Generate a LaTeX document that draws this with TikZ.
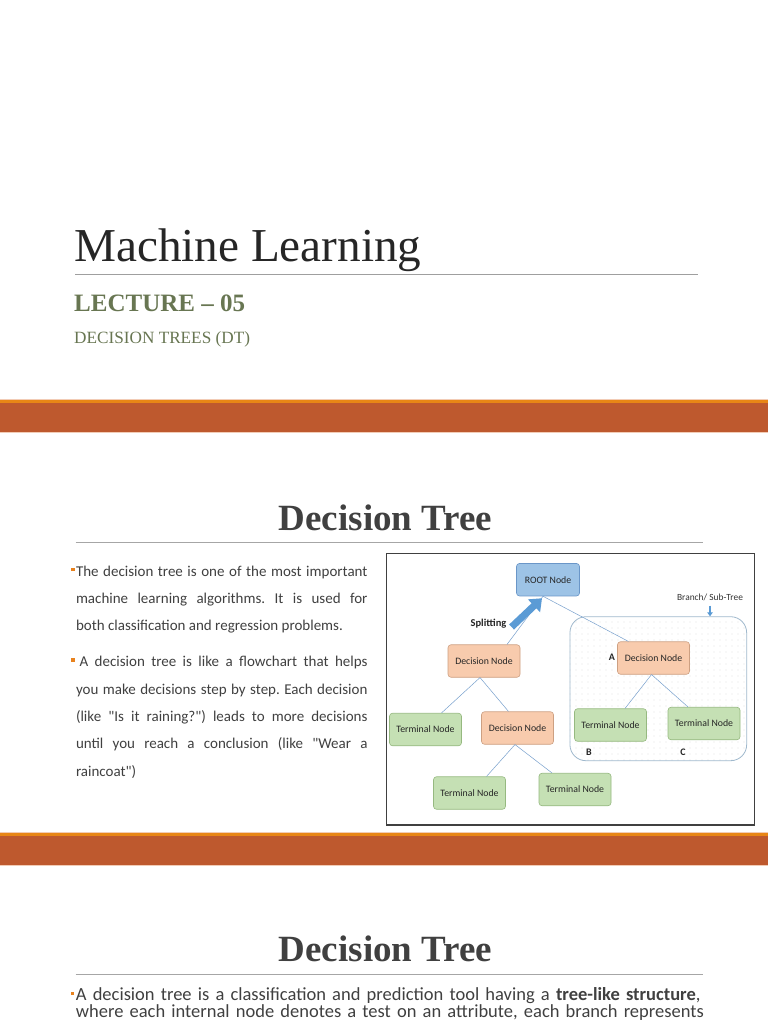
\documentclass[tikz,border=0pt]{standalone}
\usepackage{fontspec}
\setmainfont{Liberation Serif}
\newfontfamily\bodyfont{Carlito}
\usepackage{xcolor}
\usetikzlibrary{positioning,arrows.meta,calc,patterns.meta}
\definecolor{bandmain}{RGB}{190,89,46}
\definecolor{bandtop}{RGB}{232,134,22}
\definecolor{bandedge}{RGB}{242,204,182}
\definecolor{olive}{RGB}{104,118,82}
\definecolor{ink}{RGB}{64,64,64}
\definecolor{bulorange}{RGB}{232,130,30}
\definecolor{rootfill}{RGB}{157,195,230}
\definecolor{rootline}{RGB}{106,150,200}
\definecolor{decfill}{RGB}{248,203,173}
\definecolor{decline}{RGB}{205,160,130}
\definecolor{termfill}{RGB}{197,224,180}
\definecolor{termline}{RGB}{150,185,128}
\definecolor{edgeblue}{RGB}{120,160,205}
\definecolor{arrowblue}{RGB}{91,155,213}
\definecolor{subline}{RGB}{160,185,205}
\newcommand{\sqbullet}[1]{\textcolor{bulorange}{\rule[#1]{3.4pt}{3.4pt}}}

\begin{document}
\begin{tikzpicture}[x=1pt, y=-1pt, font=\bodyfont,
  treebox/.style={draw, rounded corners=3pt, line width=0.6pt, minimum width=72pt,
    minimum height=32.5pt, inner sep=0pt, text=black!85,
    font=\bodyfont\fontsize{9.8}{11}\selectfont},
  rootbox/.style={treebox, fill=rootfill, draw=rootline, minimum width=63pt},
  decbox/.style={treebox, fill=decfill, draw=decline},
  termbox/.style={treebox, fill=termfill, draw=termline},
  link/.style={edgeblue, line width=0.5pt},
  tag/.style={inner sep=0pt, text=black!85, font=\bodyfont\bfseries\fontsize{10}{12}\selectfont}]
  \useasboundingbox (0,0) rectangle (768,1024);
  \clip (0,0) rectangle (768,1024);
  \fill[white] (0,0) rectangle (768,1024);

  % title slide
  \node[anchor=base west, inner sep=0pt, text=black!85, font=\fontsize{47.2}{50}\selectfont] (title) at (74,261.7) {Machine Learning};
  \draw[gray!75, line width=1pt] (75,274) -- (698,274);
  \node[anchor=base west, inner sep=0pt, text=olive, font=\bfseries\fontsize{25}{28}\selectfont] (lecture) at (74,311.7) {LECTURE – 05};
  \node[anchor=base west, inner sep=0pt, text=olive, font=\fontsize{17.2}{20}\selectfont] (subtitle) at (74,343.3) {DECISION TREES (DT)};

  % orange separator bands
  \foreach \by in {0,433}{
    \fill[bandedge] (0,398.8+\by) rectangle (768,432.8+\by);
    \fill[bandtop] (0,399.7+\by) rectangle (768,403.3+\by);
    \fill[bandmain] (0,403.3+\by) rectangle (768,431.7+\by);
  }

  % slide headings
  \foreach \hy/\hn in {530/1,961.7/2}{
    \node[anchor=base, inner sep=0pt, text=ink, font=\bfseries\fontsize{37}{40}\selectfont] (head\hn) at (385.5,\hy) {Decision Tree};
    \draw[gray!70, line width=0.9pt] (75.6,\hy+12.8) -- (703,\hy+12.8);
  }

  % left text
  \node[anchor=base west, inner sep=0pt, text width=291.5pt, align=justify, text=ink,
    font=\bodyfont\fontsize{15}{27.3}\selectfont\frenchspacing] (intro) at (75.8,576.3)
    {\llap{\sqbullet{5.3pt}\kern1.5pt}The decision tree is one of the most important\linebreak
     machine learning algorithms. It is used for\linebreak
     both classification and regression problems.\par\vspace{8.7pt}
     \leavevmode\llap{\sqbullet{5.3pt}\kern1.5pt}\kern3.6pt A decision tree is like a flowchart that helps\linebreak
     you make decisions step by step. Each decision\linebreak
     (like "Is it raining?") leads to more decisions\linebreak
     until you reach a conclusion (like "Wear a\linebreak
     raincoat")};

  % figure frame
  \draw[black!75, line width=1.3pt] (386.5,553.5) rectangle (754.5,825);

  % branch / sub-tree region
  \node[draw=subline, line width=0.8pt, rounded corners=16pt,
    pattern={Dots[distance=6pt,radius=0.35pt]}, pattern color=black!30,
    minimum width=176.7pt, minimum height=144pt] (subtree) at (658.3,688.7) {};

  % tree nodes
  \node[rootbox] (root) at (548,579.7) {ROOT Node};
  \node[decbox] (decL) at (484,661) {Decision Node};
  \node[decbox] (decA) at (653.5,658) {Decision Node};
  \node[termbox] (termL) at (425.5,729.5) {Terminal Node};
  \node[decbox] (decM) at (517.5,728) {Decision Node};
  \node[termbox] (termB) at (610.5,725) {Terminal Node};
  \node[termbox] (termC) at (704,723.5) {Terminal Node};
  \node[termbox] (termBL) at (469.5,793) {Terminal Node};
  \node[termbox] (termBR) at (575,789.5) {Terminal Node};

  % branches
  \draw[link] ([xshift=-5pt]root.south) -- ([xshift=23pt]decL.north);
  \draw[link] ([xshift=-5pt]root.south) -- ([xshift=-25pt]decA.north);
  \draw[link] ([xshift=-4pt]decL.south) -- ([xshift=16pt]termL.north);
  \draw[link] ([xshift=-4pt]decL.south) -- ([xshift=-9pt]decM.north);
  \draw[link] ([xshift=-2.5pt]decM.south) -- ([xshift=17pt]termBL.north);
  \draw[link] ([xshift=-2.5pt]decM.south) -- ([xshift=-23pt]termBR.north);
  \draw[link] ([xshift=-2pt]decA.south) -- ([xshift=14.5pt]termB.north);
  \draw[link] ([xshift=-2pt]decA.south) -- ([xshift=-16pt]termC.north);

  % annotations
  \node[tag, font=\bodyfont\bfseries\fontsize{10.5}{12}\selectfont] (split) at (488.5,624) {Splitting};
  \draw[arrowblue, line width=7pt, -{Triangle[width=17pt,length=11pt]}]
    ([xshift=5pt,yshift=-3pt]split.east) -- ([xshift=-6pt,yshift=-2pt]root.south);
  \node[inner sep=0pt, text=black!80, font=\bodyfont\fontsize{9.4}{11}\selectfont] (branch) at (710,597) {Branch/ Sub-Tree};
  \draw[arrowblue, line width=2pt, -{Triangle[width=5.5pt,length=4pt]}]
    ([yshift=-5pt]branch.south) -- (branch.south |- subtree.north);
  \node[tag] (labA) at (612,657) {A};
  \node[tag] (labB) at (589,752) {B};
  \node[tag] (labC) at (683,752) {C};

  % second slide text
  \node[anchor=base west, inner sep=0pt, text width=680pt, align=left, text=ink,
    font=\bodyfont\fontsize{18.5}{15.5}\selectfont] (summary) at (75.7,1000)
    {\lineskiplimit=-20pt\llap{\sqbullet{5pt}\kern2pt}A decision tree is a classification and prediction tool having a \textbf{tree-like structure},\\
     where each internal node denotes a test on an attribute, each branch represents};
\end{tikzpicture}
\end{document}
